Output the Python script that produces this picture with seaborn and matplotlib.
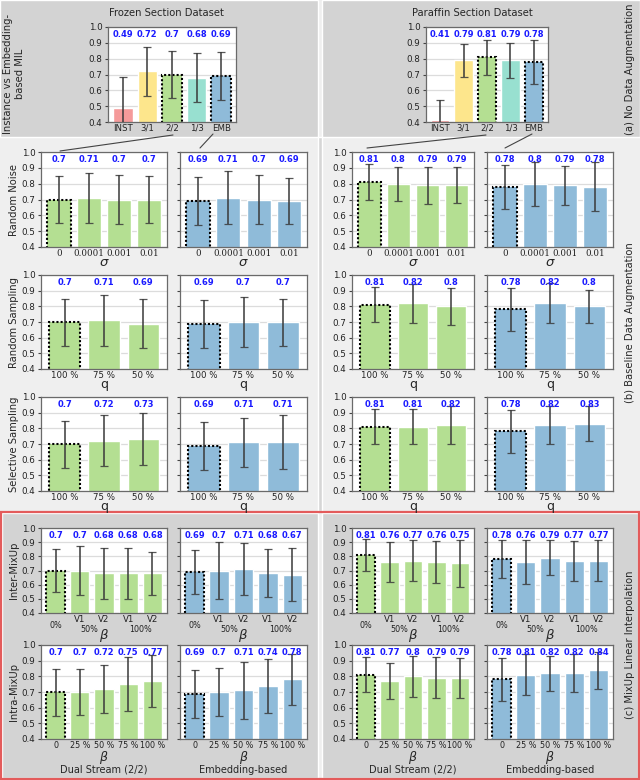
import numpy as np
import pandas as pd
import matplotlib
matplotlib.use("Agg")
import matplotlib.pyplot as plt
import seaborn as sns
from matplotlib.patches import Rectangle
from matplotlib.lines import Line2D
from matplotlib.transforms import offset_copy

# === data ===
mil_ticks = ["INST", "3/1", "2/2", "1/3", "EMB"]
mil_colors = ["#f59a9a", "#fde68c", "#b4df92", "#98e0d0", "#8fbbd9"]
frozen_mil = [0.49, 0.72, 0.70, 0.68, 0.69]
frozen_mil_err = [0.195, 0.155, 0.15, 0.155, 0.153]
paraffin_mil = [0.41, 0.79, 0.81, 0.79, 0.78]
paraffin_mil_err = [0.128, 0.105, 0.11, 0.11, 0.137]

noise_ticks = ["0", "0.0001", "0.001", "0.01"]
noise_frozen_ds = [0.70, 0.71, 0.70, 0.70]
noise_frozen_ds_err = [0.15, 0.158, 0.153, 0.15]
noise_frozen_emb = [0.69, 0.71, 0.70, 0.69]
noise_frozen_emb_err = [0.153, 0.167, 0.153, 0.145]
noise_paraffin_ds = [0.81, 0.80, 0.79, 0.79]
noise_paraffin_ds_err = [0.113, 0.108, 0.116, 0.115]
noise_paraffin_emb = [0.78, 0.80, 0.79, 0.78]
noise_paraffin_emb_err = [0.137, 0.14, 0.122, 0.155]

samp_ticks = ["100 %", "75 %", "50 %"]
rand_frozen_ds = [0.70, 0.71, 0.69]
rand_frozen_ds_err = [0.15, 0.164, 0.159]
rand_frozen_emb = [0.69, 0.70, 0.70]
rand_frozen_emb_err = [0.153, 0.16, 0.15]
rand_paraffin_ds = [0.81, 0.82, 0.80]
rand_paraffin_ds_err = [0.113, 0.125, 0.12]
rand_paraffin_emb = [0.78, 0.82, 0.80]
rand_paraffin_emb_err = [0.137, 0.128, 0.107]

sel_frozen_ds = [0.70, 0.72, 0.73]
sel_frozen_ds_err = [0.15, 0.163, 0.167]
sel_frozen_emb = [0.69, 0.71, 0.71]
sel_frozen_emb_err = [0.153, 0.158, 0.172]
sel_paraffin_ds = [0.81, 0.81, 0.82]
sel_paraffin_ds_err = [0.113, 0.113, 0.122]
sel_paraffin_emb = [0.78, 0.82, 0.83]
sel_paraffin_emb_err = [0.137, 0.12, 0.113]

inter_ticks = ["", "V1", "V2", "V1", "V2"]
inter_groups = ["0%", "50%", "100%"]
inter_frozen_ds = [0.70, 0.70, 0.68, 0.68, 0.68]
inter_frozen_ds_err = [0.15, 0.17, 0.178, 0.178, 0.154]
inter_frozen_emb = [0.69, 0.70, 0.71, 0.68, 0.67]
inter_frozen_emb_err = [0.155, 0.2, 0.183, 0.17, 0.186]
inter_paraffin_ds = [0.81, 0.76, 0.77, 0.76, 0.75]
inter_paraffin_ds_err = [0.113, 0.14, 0.142, 0.148, 0.163]
inter_paraffin_emb = [0.78, 0.76, 0.79, 0.77, 0.77]
inter_paraffin_emb_err = [0.135, 0.158, 0.125, 0.141, 0.147]

intra_ticks = ["0", "25 %", "50 %", "75 %", "100 %"]
intra_frozen_ds = [0.70, 0.70, 0.72, 0.75, 0.77]
intra_frozen_ds_err = [0.15, 0.148, 0.155, 0.172, 0.166]
intra_frozen_emb = [0.69, 0.70, 0.71, 0.74, 0.78]
intra_frozen_emb_err = [0.153, 0.155, 0.182, 0.172, 0.16]
intra_paraffin_ds = [0.81, 0.77, 0.80, 0.79, 0.79]
intra_paraffin_ds_err = [0.113, 0.114, 0.129, 0.131, 0.127]
intra_paraffin_emb = [0.78, 0.81, 0.82, 0.82, 0.84]
intra_paraffin_emb_err = [0.135, 0.132, 0.112, 0.122, 0.118]

GREEN = "#b4df92"
BLUE = "#8fbbd9"

# === figure setup ===
sns.set_theme(style="white")
plt.rcParams["font.family"] = ["DejaVu Sans"]
W, H = 640, 780
fig = plt.figure(figsize=(W / 100, H / 100), dpi=100, facecolor="#efefef")


def px_rect(x0, y0, x1, y1):
    return [x0 / W, 1 - y1 / H, (x1 - x0) / W, (y1 - y0) / H]


def bg(x0, y0, x1, y1, color):
    fig.add_artist(Rectangle((x0 / W, 1 - y1 / H), (x1 - x0) / W, (y1 - y0) / H,
                             transform=fig.transFigure, facecolor=color, zorder=-2))


# backgrounds
bg(0, 0, 318, 137, "#d3d3d3")
bg(322, 0, 640, 137, "#d3d3d3")
bg(318, 137, 322, 511, "#d6d6d6")
bg(2, 513, 318, 778, "#d3d3d3")
bg(322, 513, 638, 778, "#d3d3d3")
fig.add_artist(Rectangle((1 / W, 1 - 779 / H), 638 / W, 267 / H, transform=fig.transFigure,
                         facecolor="none", edgecolor="#e35b5b", lw=1.6, zorder=-1))


def panel(rect, ticks, vals, errs, colors, ylabels=True, tick_serif=False, xlab=None,
          xlab_off=15, xlab_size=9.5, dotted=(0,), tick_size=6.2):
    ax = fig.add_axes(px_rect(*rect))
    n = len(vals)
    df = pd.DataFrame({"key": [str(i) for i in range(n)], "val": vals})
    sns.barplot(data=df, x="key", y="val", hue="key", palette=colors, saturation=1,
                legend=False, errorbar=None, width=0.8, ax=ax, zorder=2)
    ax.errorbar(np.arange(n), vals, yerr=errs, fmt="none", ecolor="#3a3a3a",
                elinewidth=1.3, capsize=3.2, capthick=0.9, alpha=0.85, zorder=3)
    # baseline bars get a dotted black edge
    for p in ax.patches:
        xc = p.get_x() + p.get_width() / 2
        if any(abs(xc - d) < 0.01 for d in dotted):
            p.set_edgecolor("black")
            p.set_linestyle((0, (1, 1)))
            p.set_linewidth(1.5)
    for i, v in enumerate(vals):
        ax.text(i, 0.95, f"{v:g}", ha="center", va="center", color="#1a1aff",
                fontweight="bold", fontsize=6, zorder=4)
    ax.set_xlim(-0.6, n - 0.4)
    ax.set_ylim(0.4, 1.0)
    ax.set_yticks([0.4, 0.5, 0.6, 0.7, 0.8, 0.9, 1.0])
    ax.set_yticklabels([f"{t:.1f}" for t in ax.get_yticks()])
    ax.yaxis.grid(True, color="#dcdcdc", lw=0.9)
    ax.set_axisbelow(True)
    ax.set_facecolor("white")
    for s in ax.spines.values():
        s.set_color("#6a6a6a")
        s.set_linewidth(0.9)
    ax.tick_params(axis="y", length=2.5, width=0.8, color="#444444", labelsize=6.3,
                   labelcolor="#222222", pad=1.5, left=True, labelleft=ylabels)
    ax.tick_params(axis="x", length=0, pad=1.4, labelsize=tick_size, labelcolor="#222222")
    ax.set_xticks(range(n))
    ax.set_xticklabels(ticks, family="DejaVu Serif" if tick_serif else "DejaVu Sans")
    ax.set_xlabel("")
    ax.set_ylabel("")
    if xlab is not None:
        tr = offset_copy(ax.transAxes, fig=fig, y=-xlab_off, units="dots")
        ax.text(0.5, 0, xlab, transform=tr, ha="center", va="center", fontsize=xlab_size,
                family="DejaVu Serif")
    return ax


# column x-ranges
A = (41, 167)
B = (180, 307)
C = (352, 474)
D = (487, 613)

# (a) no data augmentation
panel((108, 27, 236, 122), mil_ticks, frozen_mil, frozen_mil_err, mil_colors, dotted=(2, 4))
panel((426, 27, 548, 122), mil_ticks, paraffin_mil, paraffin_mil_err, mil_colors, dotted=(2, 4))

# (b) baseline augmentation
rows_b = [
    ((152, 247), noise_ticks, True, "$\\sigma$", 15.5, 9.5,
     [(noise_frozen_ds, noise_frozen_ds_err), (noise_frozen_emb, noise_frozen_emb_err),
      (noise_paraffin_ds, noise_paraffin_ds_err), (noise_paraffin_emb, noise_paraffin_emb_err)]),
    ((275, 369), samp_ticks, False, "$\\mathsf{q}$", 17, 9,
     [(rand_frozen_ds, rand_frozen_ds_err), (rand_frozen_emb, rand_frozen_emb_err),
      (rand_paraffin_ds, rand_paraffin_ds_err), (rand_paraffin_emb, rand_paraffin_emb_err)]),
    ((397, 491), samp_ticks, False, "$\\mathsf{q}$", 17, 9,
     [(sel_frozen_ds, sel_frozen_ds_err), (sel_frozen_emb, sel_frozen_emb_err),
      (sel_paraffin_ds, sel_paraffin_ds_err), (sel_paraffin_emb, sel_paraffin_emb_err)]),
]
for (y0, y1), ticks, serif, xl, off, xs, series in rows_b:
    for (x0, x1), (v, e), col, ylab in zip([A, B, C, D], series,
                                          [GREEN, BLUE, GREEN, BLUE],
                                          [True, False, True, False]):
        panel((x0, y0, x1, y1), ticks, v, e, [col] * len(v), ylabels=ylab,
              tick_serif=serif, xlab=xl, xlab_off=off, xlab_size=xs)

# (c) mixup
inter_series = [(inter_frozen_ds, inter_frozen_ds_err), (inter_frozen_emb, inter_frozen_emb_err),
                (inter_paraffin_ds, inter_paraffin_ds_err), (inter_paraffin_emb, inter_paraffin_emb_err)]
for (x0, x1), (v, e), col, ylab in zip([A, B, C, D], inter_series,
                                      [GREEN, BLUE, GREEN, BLUE], [True, False, True, False]):
    ax = panel((x0, 528, x1, 613), inter_ticks, v, e, [col] * len(v), ylabels=ylab,
               xlab="$\\beta$", xlab_off=22)
    for xpos, lab, off in zip([0, 1.4, 3.5], inter_groups, [12, 16, 16]):
        tr = offset_copy(ax.get_xaxis_transform(), fig=fig, y=-off, units="dots")
        ax.text(xpos, 0, lab, transform=tr, ha="center", va="center", fontsize=5.8,
                color="#222222")

intra_series = [(intra_frozen_ds, intra_frozen_ds_err), (intra_frozen_emb, intra_frozen_emb_err),
                (intra_paraffin_ds, intra_paraffin_ds_err), (intra_paraffin_emb, intra_paraffin_emb_err)]
for (x0, x1), (v, e), col, ylab, name in zip([A, B, C, D], intra_series,
                                            [GREEN, BLUE, GREEN, BLUE], [True, False, True, False],
                                            ["Dual Stream (2/2)", "Embedding-based"] * 2):
    ax = panel((x0, 645, x1, 739), intra_ticks, v, e, [col] * len(v), ylabels=ylab,
               xlab="$\\beta$", xlab_off=18.5, xlab_size=9, tick_size=5.8)
    tr = offset_copy(ax.transAxes, fig=fig, y=-31, units="dots")
    ax.text(0.5, 0, name, transform=tr, ha="center", va="center", fontsize=7)

# === texts ===
fig.text(166 / W, 1 - 13 / H, "Frozen Section Dataset", ha="center", va="center", fontsize=7.2)
fig.text(472 / W, 1 - 13 / H, "Paraffin Section Dataset", ha="center", va="center", fontsize=7.2)

row_labels = [("Instance vs Embedding-\nbased MIL", 74), ("Random Noise", 200),
              ("Random Sampling", 322), ("Selective Sampling", 444),
              ("Inter-MixUp", 570), ("Intra-MixUp", 692)]
for lab, yc in row_labels:
    fig.text(14 / W, 1 - yc / H, lab, rotation=90, ha="center", va="center", fontsize=7.2,
             linespacing=1.3)

side_labels = [("(a) No Data Augmentation", 69), ("(b) Baseline Data Augmentation", 323),
               ("(c) MixUp Linear Interpolation", 645)]
for lab, yc in side_labels:
    fig.text(630 / W, 1 - yc / H, lab, rotation=90, ha="center", va="center", fontsize=7.2)

# zoom connector lines
for (xa, ya), (xb, yb) in [((173, 135), (60, 151)), ((213, 134), (200, 148)),
                           ((486, 135), (367, 148)), ((532, 134), (505, 148))]:
    fig.add_artist(Line2D([xa / W, xb / W], [1 - ya / H, 1 - yb / H], transform=fig.transFigure,
                          color="#444444", lw=0.8, zorder=5))

fig.savefig("out.png", dpi=100, facecolor=fig.get_facecolor())
